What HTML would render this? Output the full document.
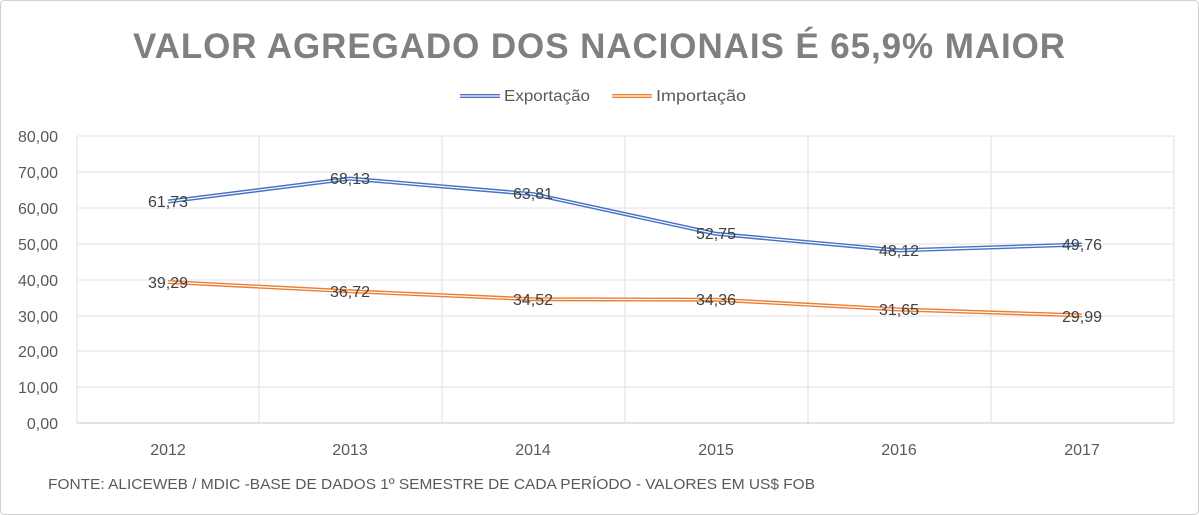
<!DOCTYPE html>
<html><head><meta charset="utf-8"><style>
body{margin:0;background:#fff;}
svg{display:block;font-family:"Liberation Sans",sans-serif;}
</style></head><body>
<svg width="1199" height="515" viewBox="0 0 1199 515">
<rect x="0.5" y="0.5" width="1198" height="514" rx="4" fill="#fff" stroke="#d0d0d0"/>
<text x="133" y="58" font-size="35" font-weight="bold" fill="#808080" textLength="932" lengthAdjust="spacing">VALOR AGREGADO DOS NACIONAIS É 65,9% MAIOR</text>
<g stroke-width="4"><line x1="460" y1="96" x2="500" y2="96" stroke="#4472C4"/><line x1="612" y1="96" x2="652" y2="96" stroke="#ED7D31"/></g>
<g stroke="#fff" stroke-width="1.2"><line x1="460" y1="96" x2="500" y2="96"/><line x1="612" y1="96" x2="652" y2="96"/></g>
<g font-size="16" fill="#595959"><text x="504" y="101" textLength="86" lengthAdjust="spacingAndGlyphs">Exportação</text><text x="656" y="101" textLength="90" lengthAdjust="spacingAndGlyphs">Importação</text></g>
<g stroke="#e6e6e6" stroke-width="1.3">
<line x1="77" y1="136" x2="1174" y2="136"/><line x1="77" y1="172" x2="1174" y2="172"/><line x1="77" y1="208" x2="1174" y2="208"/><line x1="77" y1="244" x2="1174" y2="244"/><line x1="77" y1="280" x2="1174" y2="280"/><line x1="77" y1="316" x2="1174" y2="316"/><line x1="77" y1="351" x2="1174" y2="351"/><line x1="77" y1="387" x2="1174" y2="387"/>
<line x1="77" y1="136" x2="77" y2="423"/><line x1="259" y1="136" x2="259" y2="423"/><line x1="442" y1="136" x2="442" y2="423"/><line x1="625" y1="136" x2="625" y2="423"/><line x1="808" y1="136" x2="808" y2="423"/><line x1="991" y1="136" x2="991" y2="423"/><line x1="1174" y1="136" x2="1174" y2="423"/>
</g>
<line x1="77" y1="423" x2="1174" y2="423" stroke="#d0d0d0" stroke-width="1.3"/>
<g font-size="16" fill="#595959" text-anchor="end">
<text x="58" y="142">80,00</text><text x="58" y="178">70,00</text><text x="58" y="214">60,00</text><text x="58" y="250">50,00</text><text x="58" y="286">40,00</text><text x="58" y="322">30,00</text><text x="58" y="357">20,00</text><text x="58" y="393">10,00</text><text x="58" y="429">0,00</text>
</g>
<g font-size="16" fill="#595959" text-anchor="middle">
<text x="168" y="455">2012</text><text x="350" y="455">2013</text><text x="533" y="455">2014</text><text x="716" y="455">2015</text><text x="899" y="455">2016</text><text x="1082" y="455">2017</text>
</g>
<g fill="none" stroke-linejoin="round">
<polyline points="168,201.5 350,178.6 533,194.1 716,233.8 899,250.4 1082,244.5" stroke="#4472C4" stroke-width="4"/>
<polyline points="168,282 350,291.3 533,299.2 716,299.7 899,309.5 1082,315.4" stroke="#ED7D31" stroke-width="4"/>
<polyline points="168,201.5 350,178.6 533,194.1 716,233.8 899,250.4 1082,244.5" stroke="#fff" stroke-width="1.2"/>
<polyline points="168,282 350,291.3 533,299.2 716,299.7 899,309.5 1082,315.4" stroke="#fff" stroke-width="1.2"/>
</g>
<g font-size="16" fill="#404040" text-anchor="middle">
<text x="168" y="207">61,73</text><text x="350" y="184">68,13</text><text x="533" y="199">63,81</text><text x="716" y="239">52,75</text><text x="899" y="256">48,12</text><text x="1082" y="250">49,76</text>
<text x="168" y="288">39,29</text><text x="350" y="297">36,72</text><text x="533" y="305">34,52</text><text x="716" y="305">34,36</text><text x="899" y="315">31,65</text><text x="1082" y="322">29,99</text>
</g>
<text x="48" y="489" font-size="15" fill="#595959" textLength="767" lengthAdjust="spacingAndGlyphs">FONTE: ALICEWEB / MDIC -BASE DE DADOS 1º SEMESTRE DE CADA PERÍODO - VALORES EM US$ FOB</text>
</svg>
</body></html>
